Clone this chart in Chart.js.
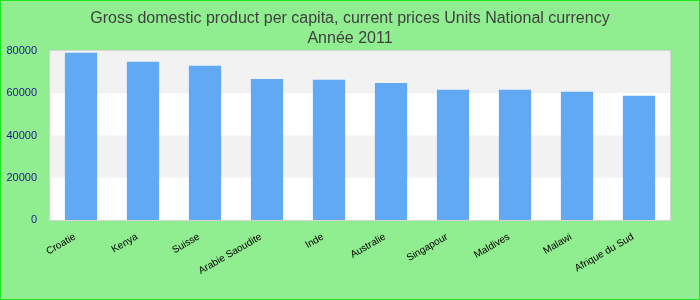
<!DOCTYPE html>
<html>
<head>
<meta charset="utf-8">
<script src="https://cdn.jsdelivr.net/npm/chart.js@4/dist/chart.umd.min.js"></script>
<style>
  html, body { margin: 0; padding: 0; background: #90ee90; }
  #wrap { width: 700px; height: 300px; position: relative; }
</style>
</head>
<body>
<div id="wrap"><canvas id="chart" width="700" height="300"></canvas></div>
<script>
// données
const titleLines = ['Gross domestic product per capita, current prices Units National currency', 'Année 2011'];
const countries = ['Croatie', 'Kenya', 'Suisse', 'Arabie Saoudite', 'Inde', 'Australie', 'Singapour', 'Maldives', 'Malawi', 'Afrique du Sud'];
const gdpValues = [79200, 74900, 73000, 66800, 66400, 64900, 61600, 61600, 60700, 58800];
const yTicks = [0, 20000, 40000, 60000, 80000];

// fond vert, bordure, bandes alternées et cadre de la zone de tracé
const decorPlugin = {
    id: 'decor',
    beforeDraw(chart) {
        const { ctx, width, height, chartArea: a, scales } = chart;
        ctx.save();
        ctx.fillStyle = '#90ee90';
        ctx.fillRect(0, 0, width, height);
        ctx.fillStyle = '#ffffff';
        ctx.fillRect(a.left, a.top, a.right - a.left, a.bottom - a.top);
        const y = scales.y;
        for (let i = 0; i < yTicks.length - 1; i++) {
            if (i % 2 === 1) {
                const top = y.getPixelForValue(yTicks[i + 1]);
                const bot = y.getPixelForValue(yTicks[i]);
                ctx.fillStyle = '#f2f2f2';
                ctx.fillRect(a.left, top, a.right - a.left, bot - top);
            }
        }
        ctx.restore();
    },
    afterDraw(chart) {
        const { ctx, width, height, chartArea: a } = chart;
        ctx.save();
        ctx.strokeStyle = '#d4d4d4';
        ctx.lineWidth = 1;
        ctx.strokeRect(a.left - 0.5, a.top - 0.5, a.right - a.left + 1, a.bottom - a.top + 1);
        ctx.strokeStyle = '#1ee61e';
        ctx.lineWidth = 2;
        ctx.strokeRect(0, 0, width, height);
        ctx.restore();
    }
};

const ctx = document.getElementById('chart').getContext('2d');
new Chart(ctx, {
    type: 'bar',
    data: {
        labels: countries,
        datasets: [{
            data: gdpValues,
            backgroundColor: '#62a9f4',
            borderWidth: 0,
            barPercentage: 0.52,
            categoryPercentage: 1
        }]
    },
    options: {
        responsive: false,
        animation: false,
        layout: { padding: 0 },
        plugins: {
            legend: { display: false },
            tooltip: { enabled: false },
            title: {
                display: true,
                text: titleLines,
                color: '#404040',
                font: { family: 'Liberation Sans, Arial, sans-serif', size: 16, weight: 'normal', lineHeight: 1.25 },
                padding: { top: 9, bottom: 2 }
            }
        },
        scales: {
            x: {
                grid: { display: false },
                border: { display: false },
                ticks: {
                    color: '#000000',
                    font: { family: 'Liberation Sans, Arial, sans-serif', size: 10 },
                    minRotation: 30,
                    maxRotation: 30,
                    autoSkip: false,
                    labelOffset: -6
                },
                afterFit(scale) { scale.height = 80; }
            },
            y: {
                min: 0,
                max: 80000,
                grid: { display: false },
                border: { display: false },
                ticks: {
                    stepSize: 20000,
                    color: '#1a1a8c',
                    font: { family: 'Liberation Sans, Arial, sans-serif', size: 11 },
                    padding: 5,
                    callback: (v) => String(v)
                },
                afterFit(scale) { scale.width = 50; }
            },
            // axe vide à droite pour réserver la marge
            yRight: {
                position: 'right',
                display: true,
                grid: { display: false },
                border: { display: false },
                ticks: { display: false },
                afterFit(scale) { scale.width = 30; }
            }
        }
    },
    plugins: [decorPlugin]
});
</script>
</body>
</html>
